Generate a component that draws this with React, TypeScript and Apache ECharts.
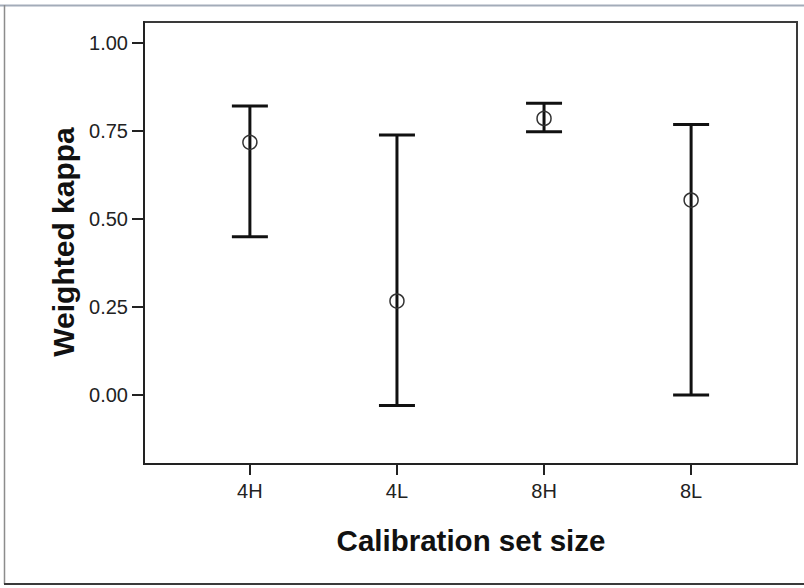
import React, { useEffect, useRef } from "react";
import * as echarts from "echarts";

const categories = ["4H", "4L", "8H", "8L"];
const means = [0.718, 0.267, 0.786, 0.554];
const lowers = [0.45, -0.03, 0.748, 0.0];
const uppers = [0.821, 0.739, 0.829, 0.769];
const yTicks = [0, 0.25, 0.5, 0.75, 1];
const xTicks = [0, 1, 2, 3];

const FONT = "'Liberation Sans', Arial, sans-serif";

export default function App() {
  const ref = useRef<HTMLDivElement>(null);
  useEffect(() => {
    document.body.style.margin = "0";
    if (!ref.current) return;
    const chart = echarts.init(ref.current, null, { renderer: "svg" });
    const data = categories.map((_, i) => [i, lowers[i], uppers[i], means[i]]);
    chart.setOption({
      animation: false,
      backgroundColor: "#ffffff",
      grid: {
        left: 144,
        top: 22,
        right: 7,
        bottom: 124,
        show: true,
        borderColor: "#3a3a3a",
        borderWidth: 2,
        backgroundColor: "#ffffff",
      },
      xAxis: {
        type: "value",
        min: -0.72,
        max: 3.72,
        splitLine: { show: false },
        axisLine: { show: true, onZero: false, lineStyle: { color: "#222", width: 2 } },
        axisTick: {
          show: true,
          customValues: xTicks,
          length: 11,
          lineStyle: { color: "#222", width: 2 },
        },
        axisLabel: {
          customValues: xTicks,
          formatter: (v: number) => categories[Math.round(v)] ?? "",
          margin: 17,
          fontFamily: FONT,
          fontSize: 20,
          color: "#222",
        },
      },
      yAxis: {
        type: "value",
        min: -0.196,
        max: 1.06,
        splitLine: { show: false },
        axisLine: { show: true, onZero: false, lineStyle: { color: "#222", width: 2 } },
        axisTick: {
          show: true,
          customValues: yTicks,
          length: 12,
          lineStyle: { color: "#222", width: 2 },
        },
        axisLabel: {
          customValues: yTicks,
          formatter: (v: number) => v.toFixed(2),
          margin: 16,
          fontFamily: FONT,
          fontSize: 20,
          color: "#222",
        },
      },
      graphic: [
        {
          type: "line",
          shape: { x1: 0, y1: 5.5, x2: 804, y2: 5.5 },
          style: { stroke: "#a3acb9", lineWidth: 2 },
          z: 100,
        },
        {
          type: "line",
          shape: { x1: 4.5, y1: 5, x2: 4.5, y2: 584 },
          style: { stroke: "#8c8c8c", lineWidth: 1.5 },
          z: 100,
        },
        {
          type: "line",
          shape: { x1: 4, y1: 584, x2: 804, y2: 584 },
          style: { stroke: "#3a3a3a", lineWidth: 2 },
          z: 100,
        },
        {
          type: "text",
          x: 471,
          y: 540,
          style: {
            text: "Calibration set size",
            fontFamily: FONT,
            fontWeight: "bold",
            fontSize: 29.5,
            fill: "#111",
            align: "center",
            verticalAlign: "middle",
          },
          z: 100,
        },
        {
          type: "text",
          x: 63,
          y: 242,
          rotation: Math.PI / 2,
          style: {
            text: "Weighted kappa",
            fontFamily: FONT,
            fontWeight: "bold",
            fontSize: 30,
            fill: "#111",
            align: "center",
            verticalAlign: "middle",
          },
          z: 100,
        },
      ],
      series: [
        {
          type: "custom",
          data,
          renderItem: (params: any, api: any) => {
            const x = api.value(0);
            const lo = api.coord([x, api.value(1)]);
            const hi = api.coord([x, api.value(2)]);
            const m = api.coord([x, api.value(3)]);
            const half = 18;
            const ls = { stroke: "#111", lineWidth: 3 };
            return {
              type: "group",
              children: [
                { type: "line", shape: { x1: hi[0], y1: hi[1], x2: lo[0], y2: lo[1] }, style: ls },
                { type: "line", shape: { x1: hi[0] - half, y1: hi[1], x2: hi[0] + half, y2: hi[1] }, style: ls },
                { type: "line", shape: { x1: lo[0] - half, y1: lo[1], x2: lo[0] + half, y2: lo[1] }, style: ls },
                {
                  type: "circle",
                  shape: { cx: m[0], cy: m[1], r: 7 },
                  style: { fill: "none", stroke: "#333", lineWidth: 1.5 },
                },
              ],
            };
          },
        },
      ],
    });
    return () => chart.dispose();
  }, []);
  return <div ref={ref} style={{ width: 804, height: 588 }} />;
}
